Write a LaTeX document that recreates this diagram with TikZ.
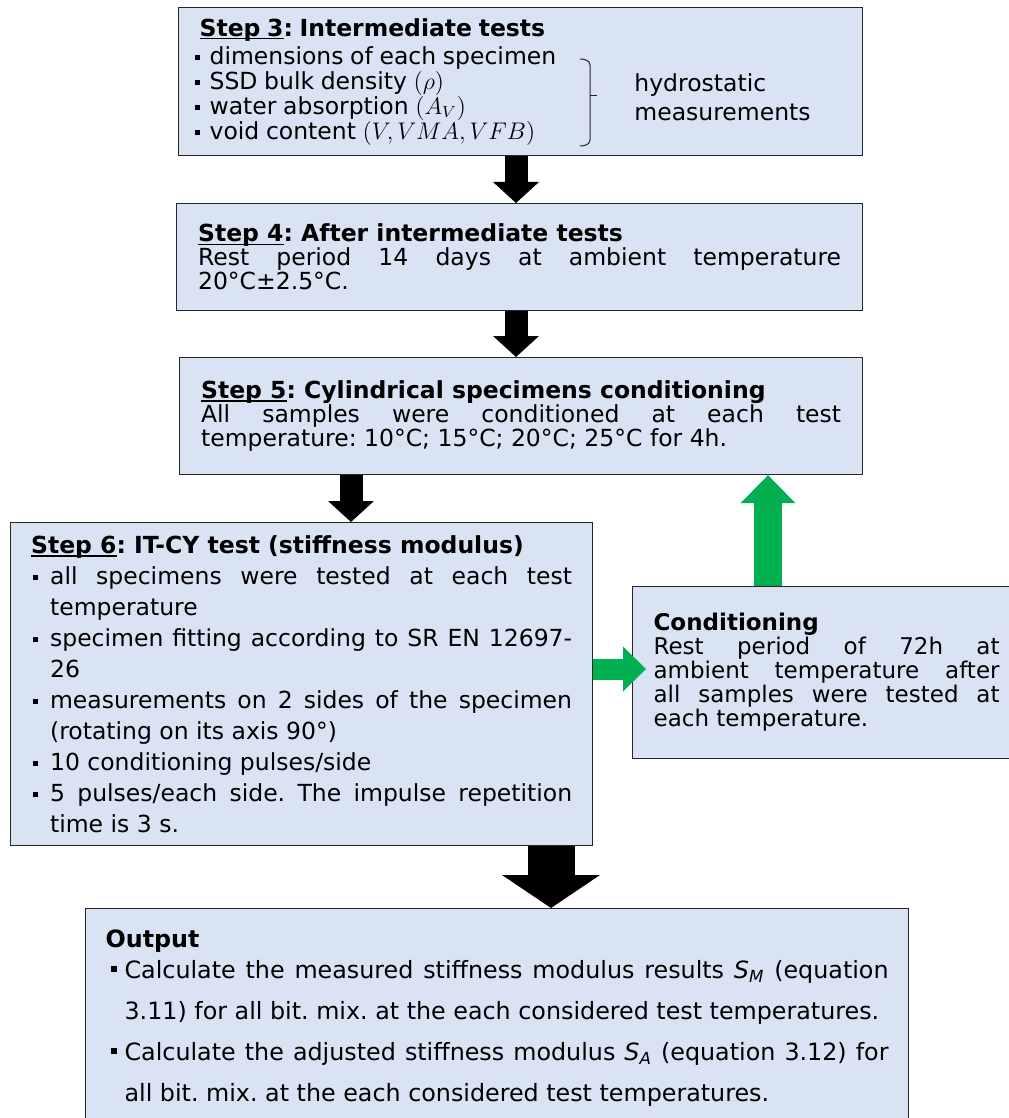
\documentclass[tikz,border=0pt]{standalone}
\usepackage{fontspec}
\setmainfont{DejaVu Sans}
\usetikzlibrary{arrows.meta,calc}
\definecolor{boxblue}{RGB}{218,227,243}
\definecolor{arrgreen}{RGB}{0,176,80}
\newcommand{\bul}[1]{\makebox[#1][l]{\rule[2pt]{2.6pt}{2.6pt}}}
\newcommand{\obul}[1]{\makebox[#1][l]{\rule[3.4pt]{3.1pt}{3.1pt}}}
\newcommand{\stepul}[1]{\setbox0\hbox{#1}\rlap{\rule[-1.6pt]{\wd0}{0.75pt}}\box0}
\frenchspacing
\begin{document}
\begin{tikzpicture}[x=0.5pt,y=-0.5pt,
  box/.style={draw=black!85, line width=0.6pt, fill=boxblue, anchor=north west,
              inner xsep=10.5pt, inner ysep=0pt, align=justify},
  blkarrow/.style={draw=black, line width=11.5pt,
              -{Triangle[width=23pt,length=10.5pt,line width=0pt]}},
  bigarrow/.style={draw=black, line width=23.5pt,
              -{Triangle[width=49pt,length=16.5pt,line width=0pt]}},
  grnup/.style={draw=arrgreen, line width=14pt,
              -{Triangle[width=27.5pt,length=14pt,line width=0pt]}},
  grnright/.style={draw=arrgreen, line width=10.5pt,
              -{Triangle[width=22.5pt,length=11.5pt,line width=0pt]}},
  plain/.style={anchor=base west, inner sep=0pt, font=\fontsize{11.75}{14}\selectfont}]
\useasboundingbox (0,0) rectangle (1008,1118);

% Step 3
\node[box, align=left, minimum width=342pt, minimum height=74pt, text width=321pt] (s3) at (178,7)
 {\fontsize{11.75}{12.5}\selectfont
  \noindent\textbf{\stepul{Step 3}: Intermediate tests}\par\vspace{1.5pt}
  \noindent\hspace*{-2.5pt}\bul{7.5pt}dimensions of each specimen\par
  \noindent\hspace*{-2.5pt}\bul{7.5pt}SSD bulk density $(\rho)$\par
  \noindent\hspace*{-2.5pt}\bul{7.5pt}water absorption $(A_V)$\par
  \noindent\hspace*{-2.5pt}\bul{7.5pt}void content $(V,\mathnormal{VMA},\mathnormal{VFB})$\par};
\node[plain] (hyd1) at (634,92) {hydrostatic};
\node[plain] (hyd2) at (634,121) {measurements};
\draw[black!85, line width=0.5pt] (580,59) to[out=0,in=90] (590,65) -- (590,140)
      to[out=-90,in=0] (580,146);
\draw[black!85, line width=0.5pt] (590,96) -- (597,96);

% Step 4
\node[box, minimum width=343pt, minimum height=53.5pt, text width=321.5pt] (s4) at (176,203)
 {\fontsize{11.75}{13.75}\selectfont
  \noindent\textbf{\stepul{Step 4}: After intermediate tests}\par
  \noindent Rest period 14 days at ambient temperature\linebreak 20°C±2.5°C.};

% Step 5
\node[box, minimum width=341.5pt, minimum height=58.5pt, text width=320pt] (s5) at (179,357)
 {\fontsize{11.75}{13.75}\selectfont
  \noindent\textbf{\stepul{Step 5}: Cylindrical specimens conditioning}\par
  \noindent All samples were conditioned at each test\linebreak temperature: 10°C; 15°C; 20°C; 25°C for 4h.};

% Step 6
\node[box, inner xsep=10pt, minimum width=291pt, minimum height=161.5pt, text width=270.5pt] (s6) at (10,522)
 {\fontsize{11.75}{15.5}\selectfont
  \noindent\textbf{\stepul{Step 6}: IT-CY test (stiffness modulus)}\par
  \noindent\hangindent=9.5pt\hangafter=1\hspace*{1pt}\bul{8.5pt}all specimens were tested at each test\linebreak temperature\par
  \noindent\hangindent=9.5pt\hangafter=1\hspace*{1pt}\bul{8.5pt}specimen fitting according to SR EN 12697-\linebreak 26\par
  \noindent\hangindent=9.5pt\hangafter=1\hspace*{1pt}\bul{8.5pt}measurements on 2 sides of the specimen\linebreak (rotating on its axis 90°)\par
  \noindent\hangindent=9.5pt\hangafter=1\hspace*{1pt}\bul{8.5pt}10 conditioning pulses/side\par
  \noindent\hangindent=9.5pt\hangafter=1\hspace*{1pt}\bul{8.5pt}5 pulses/each side. The impulse repetition\linebreak time is 3 s.\par};

% Conditioning
\node[box, minimum width=194pt, minimum height=86pt, text width=173pt] (cond) at (632,586)
 {\fontsize{11.5}{14.35}\selectfont
  \noindent\textbf{Conditioning}\par
  \noindent Rest period of 72h at\linebreak ambient temperature after\linebreak all samples were tested at\linebreak each temperature.};

% Output
\node[box, inner xsep=10pt, minimum width=411.5pt, minimum height=110pt, text width=391.5pt] (out) at (85,908)
 {\fontsize{11.9}{20.5}\selectfont
  \noindent\textbf{Output}\par\vspace{-5pt}
  \noindent\hangindent=9.5pt\hangafter=1\hspace*{2.5pt}\obul{7pt}Calculate the measured stiffness modulus results \textit{S}\textsubscript{\textit{M}} (equation\linebreak 3.11) for all bit. mix. at the each considered test temperatures.\par
  \noindent\hangindent=9.5pt\hangafter=1\hspace*{2.5pt}\obul{7pt}Calculate the adjusted stiffness modulus \textit{S}\textsubscript{\textit{A}} (equation 3.12) for\linebreak all bit. mix. at the each considered test temperatures.\par};

% arrows
\coordinate (ax1) at (516,0);
\coordinate (ax3) at (351,0);
\coordinate (ax4) at (551,0);
\coordinate (ax5) at (768,0);
\coordinate (ay6) at (0,669);
\draw[blkarrow] (s3.south -| ax1) -- (s4.north -| ax1);
\draw[blkarrow] (s4.south -| ax1) -- (s5.north -| ax1);
\draw[blkarrow] (s5.south -| ax3) -- (s6.north -| ax3);
\draw[bigarrow] (s6.south -| ax4) -- (out.north -| ax4);
\draw[grnup] (cond.north -| ax5) -- (s5.south -| ax5);
\draw[grnright] (s6.east |- ay6) -- ($(cond.west |- ay6)+(14,0)$);
\end{tikzpicture}
\end{document}
